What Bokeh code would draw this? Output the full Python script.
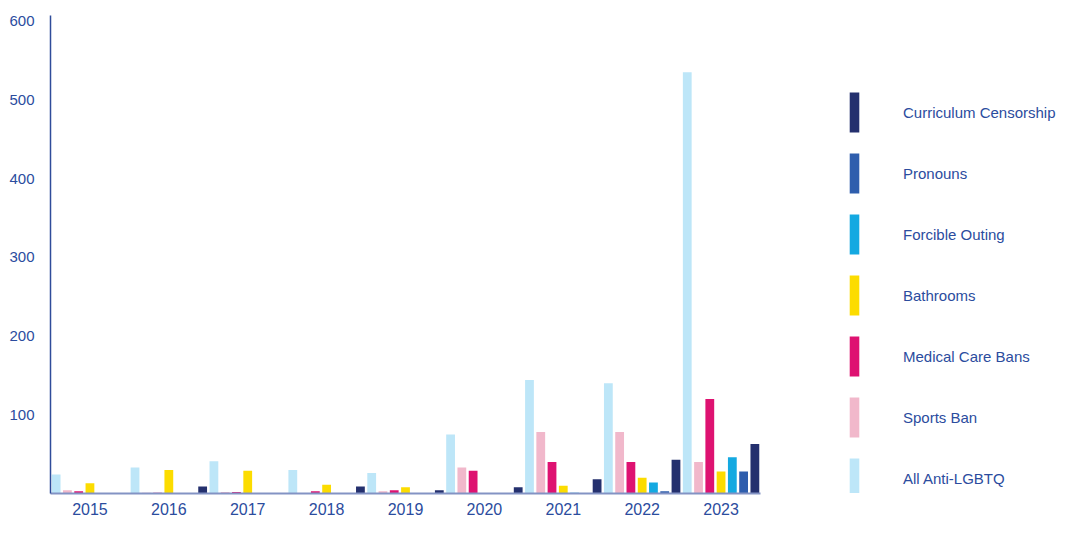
from bokeh.plotting import figure
from bokeh.models import Range1d, FixedTicker, Legend, LegendItem, ColumnDataSource
from bokeh.transform import dodge
from bokeh.embed import file_html
from bokeh.resources import INLINE

years = ["2015", "2016", "2017", "2018", "2019", "2020", "2021", "2022", "2023"]
all_anti_lgbtq = [24, 33, 41, 30, 26, 75, 144, 140, 535]
sports_ban = [4, 1, 2, 0, 3, 33, 78, 78, 40]
medical_care_bans = [3, 1, 2, 3, 4, 29, 40, 40, 120]
bathrooms = [13, 30, 29, 11, 8, 0, 10, 20, 28]
forcible_outing = [0, 0, 0, 0, 0, 0, 1, 14, 46]
pronouns = [0, 0, 0, 0, 0, 0, 0, 3, 28]
curriculum_censorship = [0, 9, 0, 9, 4, 8, 18, 43, 63]
y_ticks = [100, 200, 300, 400, 500, 600]

series = [
    ("All Anti-LGBTQ", "all", all_anti_lgbtq, "#BDE6F8"),
    ("Sports Ban", "sports", sports_ban, "#F1B8CB"),
    ("Medical Care Bans", "medical", medical_care_bans, "#DE1271"),
    ("Bathrooms", "bath", bathrooms, "#FCDC00"),
    ("Forcible Outing", "outing", forcible_outing, "#14A9E1"),
    ("Pronouns", "pron", pronouns, "#2F5EAD"),
    ("Curriculum Censorship", "curr", curriculum_censorship, "#24306E"),
]

idx = list(range(len(years)))
data = {"idx": idx, "year": years}
for name, key, vals, col in series:
    data[key] = vals
src = ColumnDataSource(data)

TEXT = "#2B4C9E"
FONT = "Liberation Sans"

# x-range extends to the right to leave room for the legend inside the frame
p = figure(
    x_range=Range1d(-0.5, 12.29),
    y_range=Range1d(0, 607),
    width=1059, height=517,
    output_backend="svg", toolbar_location=None,
    min_border_left=50, min_border_top=15, min_border_bottom=0, min_border_right=0,
)

n = len(series)
slot = 1.0 / n
renderers = []
for i, (name, key, vals, col) in enumerate(series):
    off = (i - (n - 1) / 2) * slot
    r = p.vbar(x=dodge("idx", off), top=key, width=slot * 0.78,
               source=src, fill_color=col, line_color=None)
    renderers.append((name, r))

p.xgrid.visible = False
p.ygrid.visible = False
p.outline_line_color = None

p.yaxis.ticker = FixedTicker(ticks=y_ticks)
p.yaxis.major_tick_line_color = None
p.yaxis.minor_tick_line_color = None
p.yaxis.axis_line_color = "#2F4C9A"
p.yaxis.axis_line_width = 1.5
p.yaxis.major_label_text_color = TEXT
p.yaxis.major_label_text_font = FONT
p.yaxis.major_label_text_font_size = "15px"
p.yaxis.major_label_standoff = 10

p.xaxis.ticker = FixedTicker(ticks=idx)
p.xaxis.major_label_overrides = {i: y for i, y in zip(idx, years)}
p.xaxis.bounds = (-0.5, len(years) - 0.5)
p.xaxis.major_tick_line_color = None
p.xaxis.minor_tick_line_color = None
p.xaxis.axis_line_color = "#8393C4"
p.xaxis.axis_line_width = 2
p.xaxis.major_label_text_color = TEXT
p.xaxis.major_label_text_font = FONT
p.xaxis.major_label_text_font_size = "16px"
p.xaxis.major_label_standoff = 3

items = [LegendItem(label=name, renderers=[r]) for name, r in reversed(renderers)]
legend = Legend(items=items, location=(798, -10), orientation="vertical",
                glyph_width=12, glyph_height=50, spacing=11,
                label_standoff=43, margin=0, padding=0,
                label_text_font=FONT, label_text_font_size="15px",
                label_text_color=TEXT, border_line_color=None,
                background_fill_alpha=0)
p.add_layout(legend, "center")

open("out.html", "w").write(file_html(p, INLINE))
